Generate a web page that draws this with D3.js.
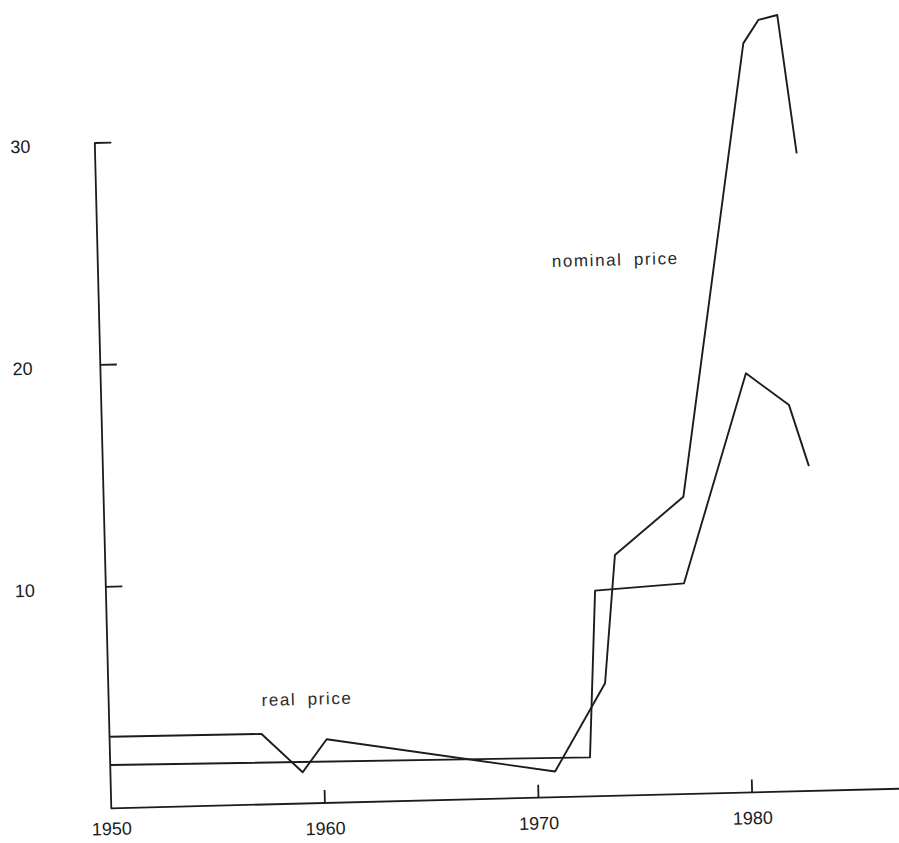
<!DOCTYPE html>
<html lang="en">

<head>
    <meta charset="UTF-8">
    <title>Oil price</title>
    <script src="https://d3js.org/d3.v7.min.js"></script>
    <style>
        body { margin: 0; background: #fff; }
    </style>
</head>

<body>
    <script>
        // upper series (labelled nominal price in the figure)
        var nominalYears = [1950.05, 1957.14, 1959.02, 1960.18, 1970.83, 1973.27, 1973.88, 1977.15, 1980.48, 1981.21, 1982.1, 1982.85];
        var nominalValues = [3.22, 3.18, 1.41, 2.87, 1.16, 5.08, 10.84, 13.39, 33.74, 34.78, 34.98, 28.73];

        // lower series (labelled real price)
        var realYears = [1950.05, 1972.48, 1972.91, 1977.08, 1980.22, 1982.2, 1983.06];
        var realValues = [1.95, 1.76, 9.26, 9.49, 18.88, 17.40, 14.63];

        var xTicks = [1950, 1960, 1970, 1980];
        var yTicks = [10, 20, 30];

        // text labels anchored at (year, value)
        var labelText = ["nominal price", "real price"];
        var labelYears = [1971.27, 1957.18];
        var labelValues = [23.88, 4.44];

        var width = 899, height = 843;
        var svg = d3.select("body")
            .append("svg")
            .attr("width", width)
            .attr("height", height)
            .style("background", "#fff");

        // the scanned figure is slightly tilted
        var g = svg.append("g")
            .attr("transform", "translate(110.8,808.3) rotate(-1.42)");

        var x = d3.scaleLinear()
            .domain([1950, 1980])
            .range([0, 641]);
        var y = d3.scaleLinear()
            .domain([0, 30])
            .range([0, -666]);

        var ink = "#1c1c1c";

        // x axis, ticks pointing up
        var xAxis = d3.axisBottom(x)
            .tickValues(xTicks)
            .tickFormat(d3.format("d"))
            .tickSize(-13)
            .tickSizeOuter(0)
            .tickPadding(19);
        var gx = g.append("g").call(xAxis);
        gx.select(".domain").attr("d", "M0,0H" + x(1988));
        gx.selectAll(".tick").filter(function (d) { return d == 1950; }).select("line").remove();
        // keep the 1950 label inside the picture
        gx.selectAll(".tick").filter(function (d) { return d == 1950; }).select("text").attr("y", 14);

        // y axis, ticks pointing right
        var yAxis = d3.axisLeft(y)
            .tickValues(yTicks)
            .tickSize(-17)
            .tickSizeOuter(0)
            .tickPadding(67);
        var gy = g.append("g").call(yAxis);

        g.selectAll(".domain, .tick line")
            .attr("stroke", ink)
            .attr("stroke-width", 1.8);
        g.selectAll(".tick text")
            .attr("fill", ink)
            .style("font-family", "'Liberation Sans', Arial, sans-serif")
            .style("font-size", "18px");
        // the labels column in the scan is a bit more upright than the axis
        gy.selectAll(".tick text")
            .attr("x", function (d) { return -64 - (30 - d) * 0.33; })
            .attr("dy", "0.45em");

        var line = d3.line()
            .x(function (d) { return x(d[0]); })
            .y(function (d) { return y(d[1]); });

        var nominal = d3.zip(nominalYears, nominalValues);
        var real = d3.zip(realYears, realValues);

        g.append("path")
            .datum(nominal)
            .attr("d", line)
            .attr("fill", "none")
            .attr("stroke", ink)
            .attr("stroke-width", 1.9)
            .attr("stroke-linejoin", "round");

        g.append("path")
            .datum(real)
            .attr("d", line)
            .attr("fill", "none")
            .attr("stroke", ink)
            .attr("stroke-width", 1.9)
            .attr("stroke-linejoin", "round");

        g.selectAll(".label")
            .data(labelText)
            .enter()
            .append("text")
            .attr("class", "label")
            .attr("x", function (d, i) { return x(labelYears[i]); })
            .attr("y", function (d, i) { return y(labelValues[i]); })
            .attr("fill", "#2a2a2a")
            .style("font-family", "'Liberation Sans', Arial, sans-serif")
            .style("font-size", "17px")
            .style("letter-spacing", "1.6px")
            .style("word-spacing", "5px")
            .text(function (d) { return d; });
    </script>

</body>

</html>
